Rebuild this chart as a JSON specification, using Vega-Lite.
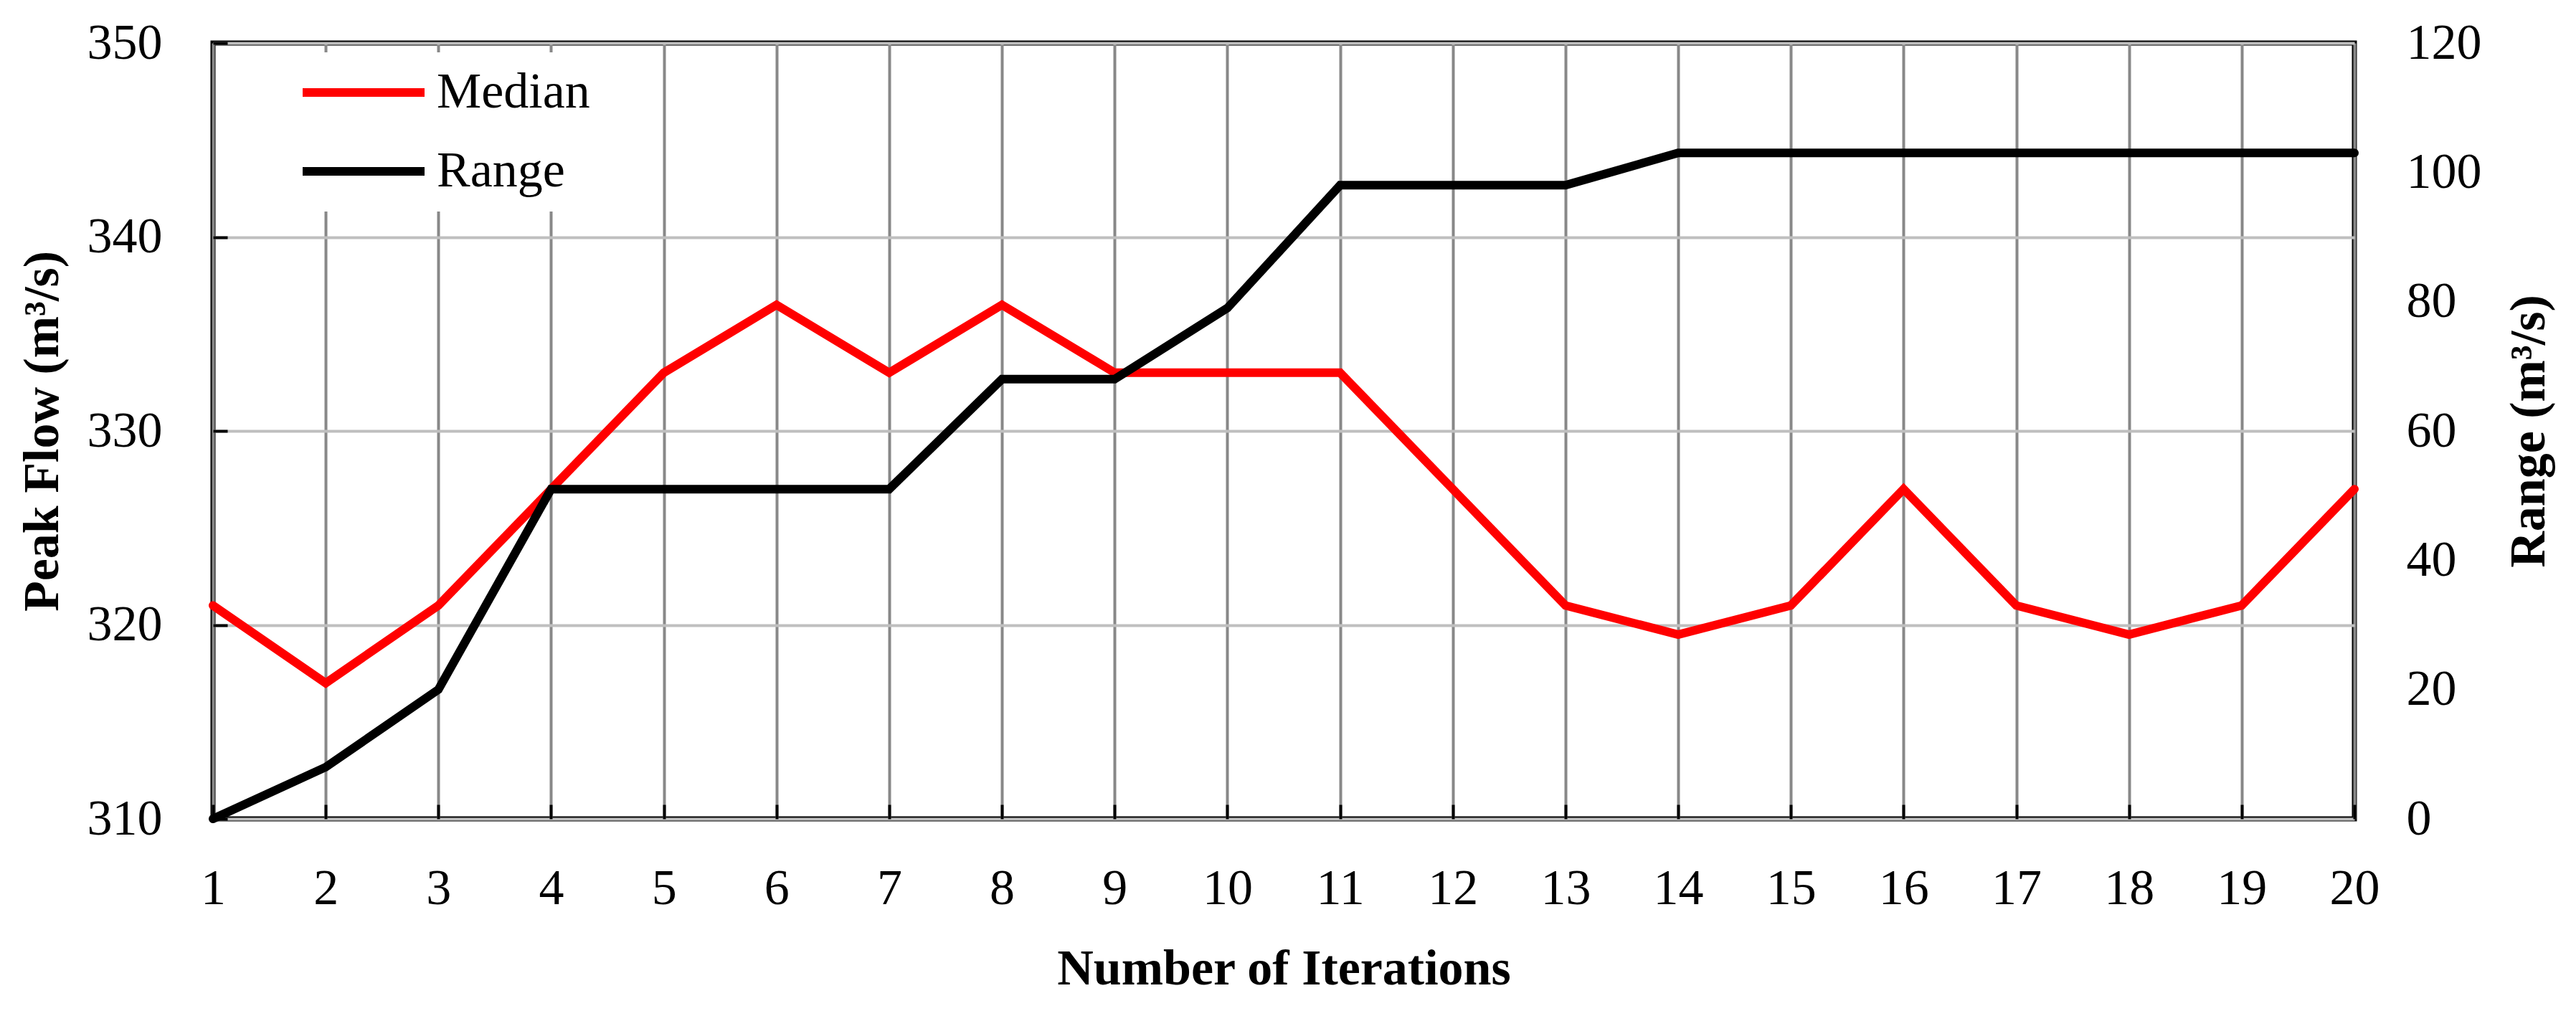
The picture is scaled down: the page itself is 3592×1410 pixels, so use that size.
{
  "$schema": "https://vega.github.io/schema/vega-lite/v6.json",
  "autosize": {"type": "none"},
  "padding": {"left": 297, "top": 60, "right": 309, "bottom": 268},
  "width": 2986,
  "height": 1082,
  "background": "white",
  "config": {
    "view": {"stroke": "black", "strokeWidth": 7},
    "font": "Liberation Serif",
    "axis": {"labelFont": "Liberation Serif", "titleFont": "Liberation Serif", "labelColor": "black", "titleColor": "black", "labelFontSize": 70, "titleFontSize": 70, "titleFontWeight": "bold"}
  },
  "data": {
    "values": [
      {"iter": 1, "median": 321, "range": 0},
      {"iter": 2, "median": 317, "range": 8},
      {"iter": 3, "median": 321, "range": 20},
      {"iter": 4, "median": 327, "range": 51},
      {"iter": 5, "median": 333, "range": 51},
      {"iter": 6, "median": 336.5, "range": 51},
      {"iter": 7, "median": 333, "range": 51},
      {"iter": 8, "median": 336.5, "range": 68},
      {"iter": 9, "median": 333, "range": 68},
      {"iter": 10, "median": 333, "range": 79},
      {"iter": 11, "median": 333, "range": 98},
      {"iter": 12, "median": 327, "range": 98},
      {"iter": 13, "median": 321, "range": 98},
      {"iter": 14, "median": 319.5, "range": 103},
      {"iter": 15, "median": 321, "range": 103},
      {"iter": 16, "median": 327, "range": 103},
      {"iter": 17, "median": 321, "range": 103},
      {"iter": 18, "median": 319.5, "range": 103},
      {"iter": 19, "median": 321, "range": 103},
      {"iter": 20, "median": 327, "range": 103}
    ]
  },
  "layer": [
    {
      "mark": {"type": "line", "strokeWidth": 12, "strokeCap": "round", "strokeJoin": "miter"},
      "encoding": {
        "x": {
          "field": "iter", "type": "quantitative",
          "scale": {"domain": [1, 20], "nice": false, "zero": false},
          "axis": {
            "values": [1,2,3,4,5,6,7,8,9,10,11,12,13,14,15,16,17,18,19,20],
            "format": "d",
            "title": "Number of Iterations",
            "titlePadding": 43,
            "labelPadding": 83,
            "labelFlush": false,
            "labelOverlap": false,
            "labelBound": false,
            "tickSize": -20,
            "tickColor": "black",
            "tickWidth": 4,
            "domain": false,
            "grid": true,
            "gridColor": "#888888",
            "gridWidth": 4
          }
        },
        "y": {
          "field": "median", "type": "quantitative",
          "scale": {"domain": [310, 350], "nice": false, "zero": false},
          "axis": {
            "values": [310, 320, 330, 340, 350],
            "title": "Peak Flow (m³/s)",
            "titlePadding": 26,
            "labelPadding": 91,
            "tickSize": -20,
            "tickColor": "black",
            "tickWidth": 4,
            "domain": false,
            "grid": true,
            "gridColor": "#bfbfbf",
            "gridWidth": 4
          }
        },
        "color": {
          "datum": "Median", "type": "nominal",
          "scale": {"domain": ["Median", "Range"], "range": ["#ff0000", "#000000"]},
          "legend": {
            "title": null,
            "orient": "none",
            "legendX": 100,
            "legendY": 13,
            "padding": 19,
            "fillColor": "white",
            "symbolType": "stroke",
            "symbolSize": 28900,
            "symbolStrokeWidth": 12,
            "clipHeight": 74,
            "rowPadding": 36,
            "labelFontSize": 70,
            "labelFont": "Liberation Serif",
            "labelColor": "black",
            "labelOffset": 11,
            "labelLimit": 1000,
            "symbolOffset": 0
          }
        }
      }
    },
    {
      "mark": {"type": "line", "strokeWidth": 12, "strokeCap": "round", "strokeJoin": "miter"},
      "encoding": {
        "x": {"field": "iter", "type": "quantitative"},
        "y": {
          "field": "range", "type": "quantitative",
          "scale": {"domain": [0, 120], "nice": false},
          "axis": {
            "orient": "right",
            "values": [0, 20, 40, 60, 80, 100, 120],
            "title": "Range (m³/s)",
            "titleAngle": 270,
            "titleBaseline": "top",
            "titlePadding": 32,
            "ticks": false,
            "labelPadding": 72,
            "domain": false,
            "grid": false
          }
        },
        "color": {"datum": "Range", "type": "nominal"}
      }
    }
  ],
  "resolve": {"scale": {"y": "independent"}}
}
